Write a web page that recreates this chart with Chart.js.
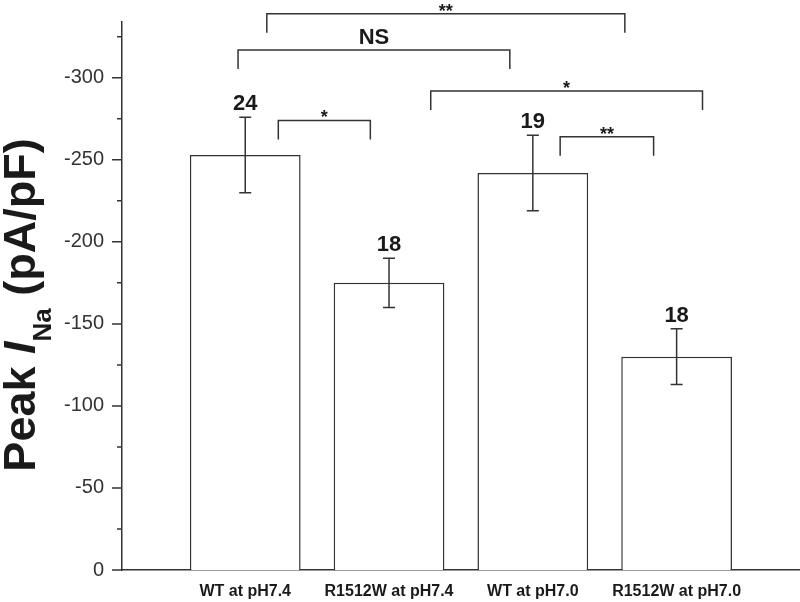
<!DOCTYPE html>
<html>
<head>
<meta charset="utf-8">
<script src="https://cdn.jsdelivr.net/npm/chart.js@4.4.1/dist/chart.umd.min.js"></script>
<style>
  html, body { margin: 0; padding: 0; background: #fff; }
  canvas { display: block; }
</style>
</head>
<body>
<canvas id="chart" width="800" height="602"></canvas>
<script>
// Peak INa per condition (pA/pF), mean +/- SEM, n cells
const CATEGORIES = ['WT at pH7.4', 'R1512W at pH7.4', 'WT at pH7.0', 'R1512W at pH7.0'];
const PEAK_INA = [-253, -175, -242, -130];
const SEM = [23, 15, 23, 17];
const N_CELLS = [24, 18, 19, 18];

const Y_MAJOR_TICKS = [0, -50, -100, -150, -200, -250, -300];
const Y_MINOR_TICKS = [-25, -75, -125, -175, -225, -275, -325];

// significance brackets: span in category positions (1-based), level on the y axis
const BRACKET_FROM = [1.15, 0.95, 1.23, 2.29, 3.19];
const BRACKET_TO = [3.64, 2.84, 1.87, 4.18, 3.84];
const BRACKET_LEVEL = [-339, -317, -274, -292, -264];
const BRACKET_LABEL = ['**', 'NS', '*', '*', '**'];

const INK = '#333333';
const TEXT = '#1a1a1a';
const FONT = '"Liberation Sans", Arial, Helvetica, sans-serif';

const annotations = {
    id: 'annotations',
    afterDraw(chart) {
        const { ctx, scales: { x, y } } = chart;
        ctx.save();
        ctx.strokeStyle = INK;
        ctx.fillStyle = TEXT;
        ctx.lineWidth = 1.5;

        // y tick marks (major + minor), pointing outwards
        const left = chart.chartArea.left;
        ctx.beginPath();
        Y_MAJOR_TICKS.forEach(v => {
            const py = y.getPixelForValue(v);
            ctx.moveTo(left - 10, py);
            ctx.lineTo(left, py);
        });
        Y_MINOR_TICKS.forEach(v => {
            const py = y.getPixelForValue(v);
            ctx.moveTo(left - 5, py);
            ctx.lineTo(left, py);
        });
        ctx.stroke();

        // error bars + n labels
        PEAK_INA.forEach((v, i) => {
            const px = x.getPixelForValue(i + 1);
            const top = y.getPixelForValue(v - SEM[i]);
            const bot = y.getPixelForValue(v + SEM[i]);
            ctx.beginPath();
            ctx.moveTo(px, top);
            ctx.lineTo(px, bot);
            ctx.moveTo(px - 6, top);
            ctx.lineTo(px + 6, top);
            ctx.moveTo(px - 6, bot);
            ctx.lineTo(px + 6, bot);
            ctx.stroke();

            ctx.font = 'bold 22px ' + FONT;
            ctx.textAlign = 'center';
            ctx.textBaseline = 'alphabetic';
            ctx.fillText(String(N_CELLS[i]), px, top - 7);
        });

        // significance brackets
        BRACKET_LABEL.forEach((label, i) => {
            const x1 = x.getPixelForValue(BRACKET_FROM[i]);
            const x2 = x.getPixelForValue(BRACKET_TO[i]);
            const py = y.getPixelForValue(BRACKET_LEVEL[i]);
            ctx.beginPath();
            ctx.moveTo(x1, py + 19);
            ctx.lineTo(x1, py);
            ctx.lineTo(x2, py);
            ctx.lineTo(x2, py + 19);
            ctx.stroke();

            ctx.textAlign = 'center';
            ctx.textBaseline = 'alphabetic';
            if (label === 'NS') {
                ctx.font = 'bold 22px ' + FONT;
                ctx.fillText(label, (x1 + x2) / 2, py - 6);
            } else {
                ctx.font = 'bold 18px ' + FONT;
                ctx.fillText(label, (x1 + x2) / 2, py + 3);
            }
        });

        // y axis title: Peak I_Na (pA/pF)
        const cy = (chart.chartArea.top + chart.chartArea.bottom) / 2 + 9;
        ctx.translate(35, cy);
        ctx.rotate(-Math.PI / 2);
        ctx.textAlign = 'left';
        ctx.textBaseline = 'alphabetic';
        const fMain = 'bold 45px ' + FONT;
        const fItal = 'italic bold 45px ' + FONT;
        const fSub = 'bold 26px ' + FONT;
        const parts = [
            { t: 'Peak ', f: fMain, dy: 0 },
            { t: 'I', f: fItal, dy: 0 },
            { t: 'Na', f: fSub, dy: 16 },
            { t: ' (pA/pF)', f: fMain, dy: 0 },
        ];
        let total = 0;
        parts.forEach(p => { ctx.font = p.f; p.w = ctx.measureText(p.t).width; total += p.w; });
        let cx = -total / 2;
        parts.forEach(p => {
            ctx.font = p.f;
            ctx.fillText(p.t, cx, p.dy);
            cx += p.w;
        });
        ctx.restore();
    },
};

new Chart(document.getElementById('chart'), {
    type: 'bar',
    data: {
        datasets: [{
            data: PEAK_INA.map((v, i) => ({ x: i + 1, y: v })),
            backgroundColor: '#ffffff',
            borderColor: INK,
            borderWidth: 1.5,
            borderSkipped: 'start',
            barPercentage: 0.77,
            categoryPercentage: 1,
        }],
    },
    options: {
        responsive: false,
        animation: false,
        layout: { padding: { top: 22, left: 0, right: 0, bottom: 0 } },
        plugins: {
            legend: { display: false },
            tooltip: { enabled: false },
        },
        scales: {
            x: {
                type: 'linear',
                offset: false,
                min: 0.143,
                max: 4.858,
                grid: { display: false, drawTicks: false, tickLength: 0, offset: false },
                border: { display: true, color: INK, width: 1.5 },
                afterBuildTicks: scale => {
                    scale.ticks = CATEGORIES.map((c, i) => ({ value: i + 1 }));
                },
                afterFit: scale => { scale.height = 32; },
                ticks: {
                    padding: 12,
                    autoSkip: false,
                    maxRotation: 0,
                    color: TEXT,
                    font: { family: FONT, size: 16, weight: 'bold' },
                    callback: v => CATEGORIES[v - 1] || '',
                },
            },
            y: {
                type: 'linear',
                reverse: true,
                min: -334,
                max: 0,
                grid: { display: false, drawTicks: false, tickLength: 0 },
                border: { display: true, color: INK, width: 1.5 },
                afterBuildTicks: scale => {
                    scale.ticks = Y_MAJOR_TICKS.map(v => ({ value: v }));
                },
                afterFit: scale => {
                    scale.width = 122;
                    scale.paddingTop = 0;
                    scale.paddingBottom = 0;
                },
                ticks: {
                    padding: 18,
                    color: INK,
                    font: { family: FONT, size: 20 },
                    callback: v => String(v),
                },
            },
        },
    },
    plugins: [annotations],
});
</script>
</body>
</html>
